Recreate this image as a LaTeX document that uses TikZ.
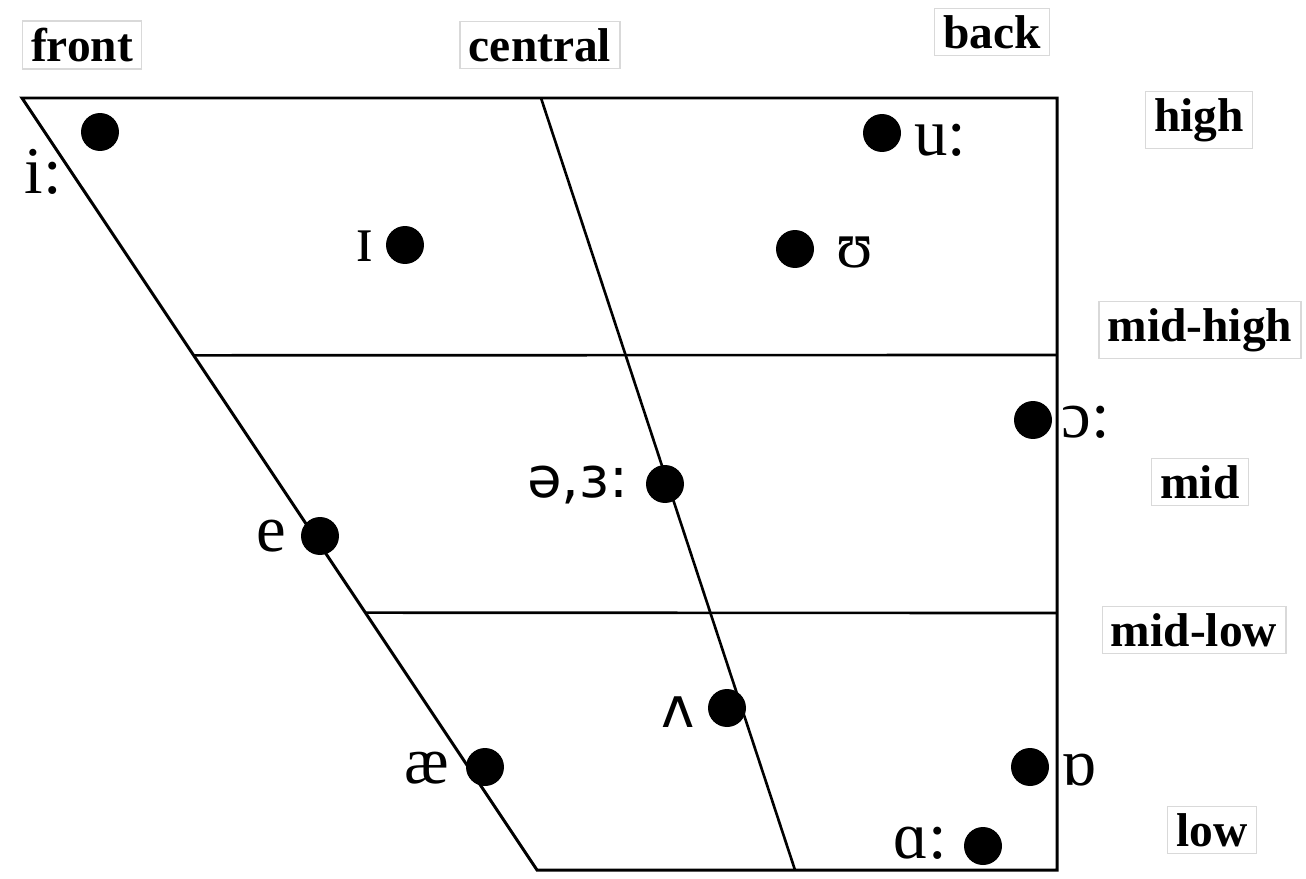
\documentclass[tikz,border=0pt]{standalone}
\usepackage{fontspec}
\setmainfont{Liberation Serif}
\newfontfamily\ipasans{DejaVu Sans}
\begin{document}
\begin{tikzpicture}[x=0.02cm,y=-0.02cm,
  chart/.style={line width=1.7pt,line join=miter},
  dot/.style={circle,fill=black,minimum size=0.76cm,inner sep=0pt},
  ipa/.style={inner sep=0pt,font=\fontsize{38}{44}\selectfont},
  ipas/.style={inner sep=0pt,font=\ipasans\fontsize{32}{38}\selectfont},
  head/.style={draw=gray!30,line width=0.8pt,inner xsep=5pt,inner ysep=4pt,font=\bfseries\fontsize{27}{32}\selectfont}]
\useasboundingbox (0,0) rectangle (1306,879);
% frame coordinates
\coordinate (TL) at (22,98);
\coordinate (TC) at (541,98);
\coordinate (TR) at (1057,98);
\coordinate (BR) at (1057,870);
\coordinate (BC) at (795,870);
\coordinate (BL) at (537,870);
\path (TL) -- (BL) coordinate[pos=1/3] (MHL) coordinate[pos=2/3] (MLL);
\coordinate (MHR) at (1057,355);
\coordinate (MLR) at (1057,613);
\draw[chart] (TL) -- (TR) -- (BR) -- (BL) -- cycle;
\draw[chart,line width=1.5pt] (TC) -- (BC);
\draw[chart,line width=1.5pt] (MHL) -- (MHR);
\draw[chart,line width=1.5pt] (MLL) -- (MLR);
% dots
\node[dot] (di) at (100,132) {};
\node[dot] (dI) at (405,245) {};
\node[dot] (du) at (882,133) {};
\node[dot] (dU) at (795,249) {};
\node[dot] (do) at (1033,420) {};
\node[dot] (dschwa) at (665,484) {};
\node[dot] (de) at (320,536) {};
\node[dot] (dv) at (727,708) {};
\node[dot] (dae) at (485,767) {};
\node[dot] (dO) at (1030,767) {};
\node[dot] (da) at (983,846) {};
% vowel labels
\node[ipa] (li) at (43,172) {i:};
\node[ipa] (lI) at (365,246) {ɪ};
\node[ipa] (lu) at (940,140) {u:};
\node[ipa] (lU) at (855,253) {ʊ};
\node[ipa] (lo) at (1086,422) {ɔ:};
\node[ipas] (lschwa) at (578,485) {ə,ɜ:};
\node[ipa] (le) at (271,536) {e};
\node[ipas] (lv) at (678,712) {ʌ};
\node[ipa] (lae) at (427,768) {æ};
\node[ipa] (lO) at (1079,770) {ɒ};
\node[ipa] (la) at (920,843) {ɑ:};
% headings
\node[head] (front) at (82,45) {front};
\node[head] (central) at (540,45) {central};
\node[head] (back) at (992,32) {back};
\node[head] (high) at (1199,120) {high};
\node[head] (midhigh) at (1200,330) {mid-high};
\node[head] (mid) at (1200,482) {mid};
\node[head] (midlow) at (1194,630) {mid-low};
\node[head] (low) at (1212,830) {low};
\end{tikzpicture}
\end{document}
